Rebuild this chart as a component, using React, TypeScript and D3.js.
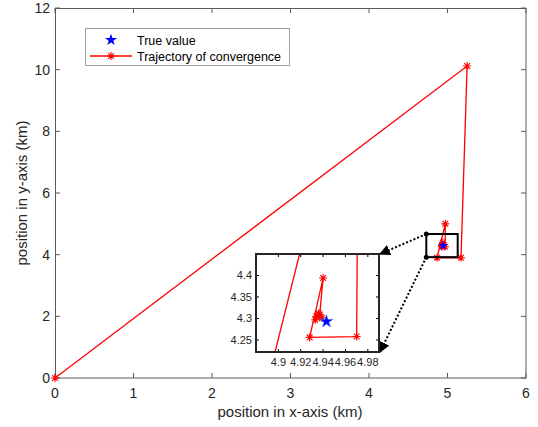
import * as d3 from "d3";

// trajectory (km)
const trajX = [0, 5.25, 5.172, 4.866, 4.972, 4.97, 4.928, 4.94, 4.937, 4.933, 4.936, 4.939, 4.934, 4.937];
const trajY = [0, 10.12, 3.9, 3.9, 5.0, 4.258, 4.256, 4.394, 4.309, 4.297, 4.312, 4.301, 4.305, 4.303];
const trueX = [4.943];
const trueY = [4.293];

const xTicks = [0, 1, 2, 3, 4, 5, 6];
const yTicks = [0, 2, 4, 6, 8, 10, 12];
const insetXTicks = [4.9, 4.92, 4.94, 4.96, 4.98];
const insetYTicks = [4.25, 4.3, 4.35, 4.4];
const insetXDomain = [4.88, 4.99];
const insetYDomain = [4.222, 4.45];
const zoomX = [4.73, 5.13];
const zoomY = [3.92, 4.67];

const legendLabels = ["True value", "Trajectory of convergence"];

const W = 538;
const H = 427;
const FONT = "'Liberation Sans', Arial, sans-serif";
const AXIS = "#5a5a5a";

function Asterisk({ cx, cy, r = 4 }: { cx: number; cy: number; r?: number }) {
  const d = r * 0.72;
  return (
    <path
      d={`M${cx - r},${cy}H${cx + r}M${cx},${cy - r}V${cy + r}M${cx - d},${cy - d}L${cx + d},${cy + d}M${cx - d},${cy + d}L${cx + d},${cy - d}`}
      stroke="#ff0000"
      strokeWidth={1.1}
      fill="none"
    />
  );
}

const star = (size: number) => d3.symbol(d3.symbolStar, size)() as string;

export default function App() {
  const x = d3.scaleLinear().domain([0, 6]).range([55, 526]);
  const y = d3.scaleLinear().domain([0, 12]).range([378, 8]);
  const ix = d3.scaleLinear().domain(insetXDomain).range([256, 379]);
  const iy = d3.scaleLinear().domain(insetYDomain).range([352, 254]);

  const pts = trajX.map((v, i) => [v, trajY[i]] as [number, number]);
  const mainLine = d3.line<[number, number]>().x((d) => x(d[0])).y((d) => y(d[1]));
  const insetLine = d3.line<[number, number]>().x((d) => ix(d[0])).y((d) => iy(d[1]));

  const [ix0, ix1] = ix.range();
  const [iy0, iy1] = iy.range();

  const zx0 = x(zoomX[0]);
  const zx1 = x(zoomX[1]);
  const zyTop = y(zoomY[1]);
  const zyBot = y(zoomY[0]);

  return (
    <svg
      width={W}
      height={H}
      style={{ position: "absolute", left: 0, top: 0, background: "#fff" }}
      fontFamily={FONT}
    >
      <defs>
        <clipPath id="mainClip">
          <rect x={55} y={8} width={471} height={370} />
        </clipPath>
        <clipPath id="insetClip">
          <rect x={ix0} y={iy1} width={ix1 - ix0} height={iy0 - iy1} />
        </clipPath>
        <marker id="arrow" viewBox="0 0 10 10" refX={9} refY={5} markerWidth={11} markerHeight={11} orient="auto" markerUnits="userSpaceOnUse">
          <path d="M0,0L10,5L0,10Z" fill="#000" />
        </marker>
      </defs>
      <rect width={W} height={H} fill="#fff" />

      {/* main axes box + ticks */}
      <rect x={55.5} y={8.5} width={470.5} height={369.5} fill="none" stroke={AXIS} strokeWidth={1} />
      {xTicks.map((t) => (
        <g key={"xt" + t}>
          <line x1={x(t)} x2={x(t)} y1={378} y2={373} stroke={AXIS} />
          <line x1={x(t)} x2={x(t)} y1={8} y2={13} stroke={AXIS} />
          <text x={x(t)} y={398} textAnchor="middle" fontSize={14} fill="#262626">
            {t}
          </text>
        </g>
      ))}
      {yTicks.map((t) => (
        <g key={"yt" + t}>
          <line x1={55} x2={60} y1={y(t)} y2={y(t)} stroke={AXIS} />
          <line x1={526} x2={521} y1={y(t)} y2={y(t)} stroke={AXIS} />
          <text x={50} y={y(t) + 5} textAnchor="end" fontSize={14} fill="#262626">
            {t}
          </text>
        </g>
      ))}
      <text x={290} y={417} textAnchor="middle" fontSize={15} fill="#262626">
        position in x-axis (km)
      </text>
      <text transform="translate(27,193) rotate(-90)" textAnchor="middle" fontSize={15} fill="#262626">
        position in y-axis (km)
      </text>

      {/* main data */}
      <path d={mainLine(pts) as string} fill="none" stroke="#ff0000" strokeWidth={1.3} clipPath="url(#mainClip)" />
      {pts.map((p, i) => (
        <Asterisk key={"m" + i} cx={x(p[0])} cy={y(p[1])} />
      ))}
      <path d={star(30)} transform={`translate(${x(trueX[0])},${y(trueY[0])})`} fill="#0000ff" />

      {/* zoom rectangle + connectors */}
      <rect x={zx0} y={zyTop} width={zx1 - zx0} height={zyBot - zyTop} fill="none" stroke="#000" strokeWidth={2} />
      <line x1={zx0} y1={zyTop} x2={ix1 + 1} y2={iy1} stroke="#000" strokeWidth={2} strokeDasharray="2 2" markerEnd="url(#arrow)" />
      <line x1={zx0} y1={zyBot} x2={ix1 + 1} y2={iy0} stroke="#000" strokeWidth={2} strokeDasharray="2 2" markerEnd="url(#arrow)" />
      <circle cx={zx0} cy={zyTop} r={2.5} fill="#000" />
      <circle cx={zx0} cy={zyBot} r={2.5} fill="#000" />

      {/* inset */}
      <rect x={ix0} y={iy1} width={ix1 - ix0} height={iy0 - iy1} fill="#fff" />
      <g clipPath="url(#insetClip)">
        <path d={insetLine(pts) as string} fill="none" stroke="#ff0000" strokeWidth={1.3} />
        {pts.map((p, i) => (
          <Asterisk key={"i" + i} cx={ix(p[0])} cy={iy(p[1])} />
        ))}
        <path d={star(50)} transform={`translate(${ix(trueX[0])},${iy(trueY[0])})`} fill="#0000ff" stroke="#3070ff" strokeWidth={0.6} />
      </g>
      {insetXTicks.map((t) => (
        <g key={"ixt" + t}>
          <line x1={ix(t)} x2={ix(t)} y1={iy0} y2={iy0 - 3} stroke="#000" />
          <line x1={ix(t)} x2={ix(t)} y1={iy1} y2={iy1 + 3} stroke="#000" />
          <text x={ix(t)} y={366} textAnchor="middle" fontSize={11} fill="#262626">
            {String(t)}
          </text>
        </g>
      ))}
      {insetYTicks.map((t) => (
        <g key={"iyt" + t}>
          <line x1={ix0} x2={ix0 + 3} y1={iy(t)} y2={iy(t)} stroke="#000" />
          <line x1={ix1} x2={ix1 - 3} y1={iy(t)} y2={iy(t)} stroke="#000" />
          <text x={252} y={iy(t) + 4} textAnchor="end" fontSize={11} fill="#262626">
            {String(t)}
          </text>
        </g>
      ))}
      <rect x={ix0} y={iy1} width={ix1 - ix0} height={iy0 - iy1} fill="none" stroke="#262626" strokeWidth={2} />

      {/* legend */}
      <rect x={85.5} y={28.5} width={204} height={37} fill="#fff" stroke="#a0a0a0" strokeWidth={1} />
      <path d={star(45)} transform="translate(111,40)" fill="#0000ff" />
      <line x1={90} x2={132} y1={56} y2={56} stroke="#ff0000" strokeWidth={1.3} />
      <Asterisk cx={111} cy={56} />
      <text x={137} y={44.5} fontSize={12.5} fill="#000">
        {legendLabels[0]}
      </text>
      <text x={137} y={60.5} fontSize={12.5} fill="#000">
        {legendLabels[1]}
      </text>
    </svg>
  );
}
